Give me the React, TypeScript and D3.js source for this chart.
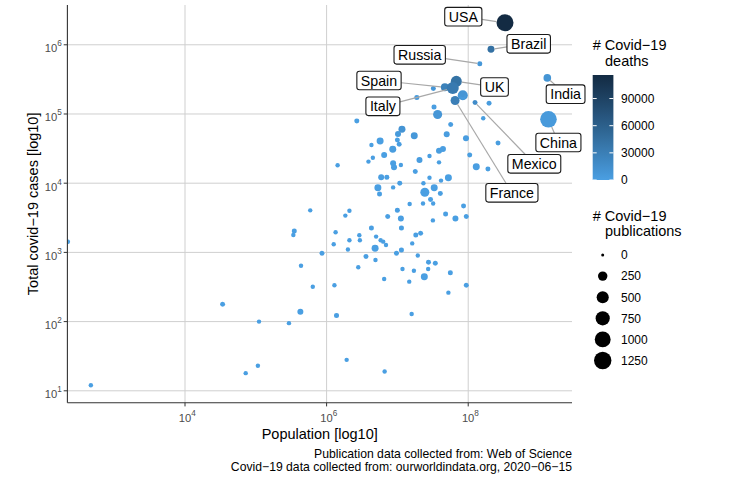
import React from 'react';
import * as d3 from 'd3';

// Countries (population, total cases, deaths, publications)
const countries = [
  'USA', 'Brazil', 'Russia', 'India', 'China', 'UK', 'Spain', 'Italy', 'France', 'Mexico',
  'Germany', 'Turkey', 'Iran', 'Pakistan', 'Peru', 'Chile', 'Saudi Arabia', 'Canada', 'Bangladesh', 'Qatar',
  'Indonesia', 'South Africa', 'Colombia', 'Egypt', 'Sweden', 'Belgium', 'Netherlands', 'Kuwait', 'Singapore', 'Belarus',
  'Portugal', 'Switzerland', 'UAE', 'Poland', 'Ukraine', 'Romania', 'Afghanistan', 'Panama', 'Oman', 'Israel',
  'Austria', 'Dominican Republic', 'Bahrain', 'Iraq', 'Japan', 'Nigeria', 'Philippines', 'Kazakhstan', 'South Korea', 'Ghana',
  'Algeria', 'Denmark', 'Serbia', 'Cameroon', 'Czechia', 'Norway', 'Azerbaijan', 'Malaysia', 'Finland', 'Australia',
  'Sudan', 'Nepal', 'Uzbekistan', 'Guinea', "Cote d'Ivoire", 'DR Congo', 'Luxembourg', 'North Macedonia', 'Kosovo', 'Hungary',
  'Bulgaria', 'Greece', 'Kenya', 'Thailand', 'Ethiopia', 'Venezuela', 'Iceland', 'Maldives', 'Estonia', 'Croatia',
  'Tunisia', 'Lithuania', 'Albania', 'Palestine', 'Slovakia', 'Georgia', 'Kyrgyzstan', 'Gabon', 'Slovenia', 'New Zealand',
  'Latvia', 'Senegal', 'Sri Lanka', 'Zambia', 'Cuba', 'Cyprus', 'Jordan', 'Malawi', 'Uruguay', 'Lebanon',
  'Malta', 'Jamaica', 'Rwanda', 'Burkina Faso', 'Mozambique', 'Yemen', 'Angola', 'Tanzania', 'Taiwan', 'Paraguay',
  'Niger', 'Montenegro', 'Mauritius', 'Vietnam', 'Myanmar', 'Faroe Islands', 'Brunei', 'Trinidad and Tobago', 'Cambodia', 'Antigua',
  'Barbados', 'Timor', 'Seychelles', 'Dominica', 'Laos', 'Vatican', 'International',
];
const population = [
  331000000, 210000000, 146000000, 1310000000, 1360000000, 67900000, 46800000, 60500000, 65300000, 125000000,
  83800000, 84300000, 83000000, 197000000, 32200000, 18800000, 32900000, 37000000, 163000000, 2670000,
  264000000, 56600000, 49700000, 93000000, 10200000, 11600000, 17300000, 4300000, 5700000, 10000000,
  10600000, 8600000, 6500000, 38700000, 44000000, 20500000, 28400000, 4500000, 3900000, 8700000,
  8960000, 11200000, 1430000, 38700000, 130000000, 190000000, 105000000, 17900000, 52500000, 28400000,
  41300000, 5900000, 7100000, 23300000, 10800000, 5300000, 8700000, 33100000, 5600000, 24400000,
  40400000, 29400000, 32000000, 14900000, 23000000, 86000000, 587000, 2100000, 1840000, 10000000,
  7300000, 11200000, 48000000, 66000000, 94000000, 31700000, 350000, 339000, 1340000, 4300000,
  11400000, 2900000, 2950000, 5000000, 5800000, 6300000, 6900000, 1260000, 2100000, 4840000,
  2000000, 18200000, 21300000, 16200000, 11400000, 861000, 9700000, 19400000, 3600000, 4900000,
  435000, 2800000, 11800000, 17100000, 27500000, 34300000, 27200000, 56000000, 24000000, 6500000,
  14700000, 638000, 1290000, 94000000, 52500000, 34000, 426000, 1380000, 15900000, 111000,
  294000, 1920000, 107000, 72000, 6600000, 468, 220,
];
const cases = [
  2080000, 861000, 533000, 332000, 83800, 296000, 244000, 237000, 157000, 146000,
  187000, 178000, 189000, 143000, 234000, 173000, 126000, 98400, 86800, 79300,
  38100, 70500, 51000, 44500, 51400, 60100, 48500, 35600, 40700, 42000,
  36500, 30900, 25500, 29500, 31200, 21600, 24700, 23300, 20500, 19400,
  17000, 18300, 18200, 20000, 17300, 16000, 25600, 14700, 12000, 12000,
  10900, 12200, 12200, 10000, 10000, 8600, 8700, 8600, 7000, 7400,
  7100, 5800, 5100, 5000, 5100, 4700, 4050, 4000, 3400, 4060,
  3300, 3100, 3600, 3100, 3300, 2900, 2040, 1780, 1950, 2250,
  2250, 1770, 1500, 1690, 1500, 1430, 1280, 1310, 1500, 1150,
  1100, 1780, 1890, 1350, 1080, 970, 970, 900, 870, 777,
  640, 610, 576, 544, 720, 695, 576, 509, 446, 413,
  378, 319, 335, 335, 262, 178, 139, 122, 129, 100,
  95, 28, 23, 18, 19, 12, 1430,
];
const deaths = [
  116000, 43300, 6900, 9500, 4600, 41700, 27100, 34300, 29400, 17100,
  8800, 4800, 8800, 2700, 6900, 3300, 930, 8200, 1150, 73,
  2100, 1500, 1700, 1600, 4900, 9650, 6070, 300, 26, 300,
  1500, 1940, 300, 1250, 900, 1400, 480, 470, 130, 300,
  680, 550, 44, 420, 930, 420, 1050, 70, 280, 54,
  760, 600, 250, 270, 330, 240, 100, 121, 326, 102,
  400, 20, 100, 30, 45, 105, 110, 190, 40, 560,
  170, 185, 100, 58, 55, 23, 10, 8, 69, 107,
  50, 75, 36, 22, 28, 40, 60, 34, 109, 22,
  30, 60, 11, 20, 40, 19, 20, 10, 24, 15,
  9, 10, 8, 15, 12, 30, 6, 10, 7, 5,
  5, 6, 10, 0, 6, 0, 3, 8, 0, 0,
  1, 0, 0, 0, 0, 0, 0,
];
const publications = [
  1180, 96, 24, 130, 1115, 390, 150, 490, 220, 24,
  300, 54, 24, 24, 24, 24, 24, 220, 12, 24,
  24, 24, 54, 54, 54, 96, 96, 12, 96, 24,
  24, 96, 54, 54, 54, 54, 12, 12, 12, 54,
  54, 12, 12, 12, 96, 24, 24, 24, 96, 12,
  12, 54, 24, 12, 24, 96, 12, 96, 24, 220,
  24, 24, 12, 12, 12, 24, 12, 12, 12, 24,
  24, 54, 24, 54, 24, 12, 24, 12, 12, 24,
  24, 12, 12, 12, 12, 12, 12, 12, 12, 96,
  12, 24, 24, 12, 24, 24, 24, 12, 24, 12,
  12, 12, 12, 12, 24, 24, 12, 24, 96, 12,
  12, 12, 12, 24, 12, 24, 54, 24, 12, 12,
  12, 12, 12, 12, 12, 12, 24,
];

const xBreaks = [1e4, 1e6, 1e8];
const yBreaks = [1e1, 1e2, 1e3, 1e4, 1e5, 1e6];
const deathBreaks = [0, 30000, 60000, 90000];
const pubBreaks = [0, 250, 500, 750, 1000, 1250];
const captionLines = [
  'Publication data collected from: Web of Science',
  'Covid\u221219 data collected from: ourworldindata.org, 2020\u221206\u221215',
];

// where ggrepel put the label boxes (box centres)
const labelBoxes: Record<string, [number, number]> = {
  USA: [463.3, 16.7],
  Brazil: [528.7, 43.8],
  Russia: [419.7, 54.8],
  Spain: [379, 80.5],
  UK: [494.5, 87],
  India: [565.6, 94.2],
  Italy: [382.9, 106.3],
  China: [558.4, 142.5],
  Mexico: [534.3, 163.8],
  France: [511.9, 192.8],
};

const FONT = "'Liberation Sans', Arial, Helvetica, sans-serif";

let measureCtx: CanvasRenderingContext2D | null = null;
function textWidth(s: string, size: number) {
  if (!measureCtx) measureCtx = document.createElement('canvas').getContext('2d');
  if (!measureCtx) return s.length * size * 0.55;
  measureCtx.font = `${size}px ${FONT}`;
  return measureCtx.measureText(s).width;
}

export default function App() {
  const W = 736, H = 478;
  const panel = { left: 67.4, right: 572, top: 5, bottom: 402.7 };

  const x = d3.scaleLog().domain([10 ** 2.339, 10 ** 9.466]).range([panel.left, panel.right]);
  const y = d3.scaleLog().domain([10 ** 0.828, 10 ** 6.575]).range([panel.bottom, panel.top]);
  const size = d3.scaleSqrt().domain([0, 1250]).range([1.5, 8.7]);
  const color = d3.scaleLinear<string>()
    .domain([0, 116000])
    .range(['#4a9fe2', '#132B43'])
    .interpolate(d3.interpolateLab);

  const points = countries.map((name, i) => ({
    name,
    cx: x(population[i]),
    cy: y(cases[i]),
    r: size(publications[i]),
    fill: color(deaths[i]),
  }));

  // colour bar
  const bar = { x: 592.7, w: 20.7, top: 75, bottom: 180 };
  const barY = d3.scaleLinear().domain([0, 116000]).range([bar.bottom, bar.top]);
  const stops = d3.range(0, 1.0001, 0.1);

  const labelFont = 14.2;
  const labels = Object.keys(labelBoxes).map((name) => {
    const p = points[countries.indexOf(name)];
    const [bx, by] = labelBoxes[name];
    const w = textWidth(name, labelFont) + 8;
    const h = 18.6;
    const dx = p.cx - bx, dy = p.cy - by;
    const t = Math.min(Math.abs((w / 2) / (dx || 1e-9)), Math.abs((h / 2) / (dy || 1e-9)));
    const sx = bx + dx * t, sy = by + dy * t;
    const len = Math.hypot(p.cx - sx, p.cy - sy);
    const ex = p.cx - ((p.cx - sx) / len) * p.r;
    const ey = p.cy - ((p.cy - sy) / len) * p.r;
    return { name, bx, by, w, h, sx, sy, ex, ey, show: len > p.r };
  });

  const axisCol = '#333333';
  const tickCol = '#4d4d4d';

  return (
    <svg width={W} height={H} style={{ position: 'absolute', left: 0, top: 0, background: '#fff' }}
      fontFamily={FONT}>
      <defs>
        <clipPath id="panel">
          <rect x={panel.left} y={panel.top} width={panel.right - panel.left} height={panel.bottom - panel.top} />
        </clipPath>
        <linearGradient id="deathGrad" x1="0" y1="1" x2="0" y2="0">
          {stops.map((s) => (
            <stop key={s} offset={s} stopColor={color(s * 116000)} />
          ))}
        </linearGradient>
      </defs>

      {/* grid */}
      <g stroke="#cfcfcf" strokeWidth={1}>
        {yBreaks.map((b) => (
          <line key={b} x1={panel.left} x2={panel.right} y1={y(b)} y2={y(b)} />
        ))}
        {xBreaks.map((b) => (
          <line key={b} x1={x(b)} x2={x(b)} y1={panel.top} y2={panel.bottom} />
        ))}
      </g>

      {/* points */}
      <g clipPath="url(#panel)">
        {points.map((p, i) => (
          <circle key={i} cx={p.cx} cy={p.cy} r={p.r} fill={p.fill} />
        ))}
      </g>

      {/* repel segments + labels */}
      <g stroke="#a8a8a8" strokeWidth={1.2}>
        {labels.filter((l) => l.show).map((l) => (
          <line key={l.name} x1={l.sx} y1={l.sy} x2={l.ex} y2={l.ey} />
        ))}
      </g>
      {labels.map((l) => (
        <g key={l.name}>
          <rect x={l.bx - l.w / 2} y={l.by - l.h / 2} width={l.w} height={l.h} rx={2.5}
            fill="#fff" stroke="#1a1a1a" strokeWidth={1.1} />
          <text x={l.bx} y={l.by + 5.1} textAnchor="middle" fontSize={labelFont} fill="#000">{l.name}</text>
        </g>
      ))}

      {/* axes */}
      <line x1={panel.left} x2={panel.left} y1={panel.top} y2={panel.bottom} stroke={axisCol} strokeWidth={1.1} />
      <line x1={panel.left} x2={panel.right} y1={panel.bottom} y2={panel.bottom} stroke={axisCol} strokeWidth={1.1} />
      {yBreaks.map((b) => (
        <g key={b}>
          <line x1={panel.left - 3.7} x2={panel.left} y1={y(b)} y2={y(b)} stroke={axisCol} strokeWidth={1} />
          <text x={61.7} y={y(b) + 7.5} textAnchor="end" fill={tickCol} fontSize={11.2}>
            10<tspan fontSize={8.2} dy={-6}>{Math.round(Math.log10(b))}</tspan>
          </text>
        </g>
      ))}
      {xBreaks.map((b) => (
        <g key={b}>
          <line x1={x(b)} x2={x(b)} y1={panel.bottom} y2={panel.bottom + 3.7} stroke={axisCol} strokeWidth={1} />
          <text x={x(b) + 2.2} y={421.7} textAnchor="middle" fill={tickCol} fontSize={11.2}>
            10<tspan fontSize={8.2} dy={-6}>{Math.round(Math.log10(b))}</tspan>
          </text>
        </g>
      ))}
      <text x={(panel.left + panel.right) / 2} y={438.5} textAnchor="middle" fontSize={14.5} fill="#000">
        Population [log10]
      </text>
      <text transform={`translate(37.5,${(panel.top + panel.bottom) / 2}) rotate(-90)`} textAnchor="middle"
        fontSize={14.5} fill="#000">
        {'Total covid\u221219 cases [log10]'}
      </text>

      {/* caption */}
      {captionLines.map((s, i) => (
        <text key={i} x={panel.right} y={457.5 + i * 13.3} textAnchor="end" fontSize={12.2} fill="#000">{s}</text>
      ))}

      {/* colour legend */}
      <text x={592.7} y={50} fontSize={14.5} fill="#000">{'# Covid\u221219'}</text>
      <text x={605} y={65.5} fontSize={14.5} fill="#000">deaths</text>
      <rect x={bar.x} y={bar.top} width={bar.w} height={bar.bottom - bar.top} fill="url(#deathGrad)" />
      {deathBreaks.map((b) => (
        <g key={b}>
          <line x1={bar.x} x2={bar.x + 4} y1={barY(b)} y2={barY(b)} stroke="#fff" strokeWidth={1} />
          <line x1={bar.x + bar.w - 4} x2={bar.x + bar.w} y1={barY(b)} y2={barY(b)} stroke="#fff" strokeWidth={1} />
          <text x={621} y={barY(b) + 4.3} fontSize={12} fill="#000">{b}</text>
        </g>
      ))}

      {/* size legend */}
      <text x={592.7} y={220.5} fontSize={14.5} fill="#000">{'# Covid\u221219'}</text>
      <text x={605} y={236} fontSize={14.5} fill="#000">publications</text>
      {pubBreaks.map((b, i) => (
        <g key={b}>
          <circle cx={602.7} cy={255 + i * 21.1} r={size(b)} fill="#000" />
          <text x={621} y={255 + i * 21.1 + 4.3} fontSize={12} fill="#000">{b}</text>
        </g>
      ))}
    </svg>
  );
}
